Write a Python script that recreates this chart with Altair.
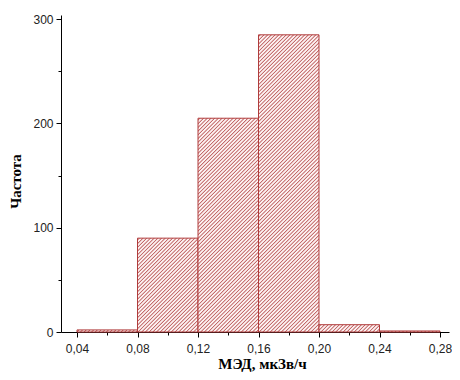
import altair as alt
import pandas as pd

# Histogram data
bin_start = [0.04, 0.08, 0.12, 0.16, 0.20, 0.24]
bin_end = [0.08, 0.12, 0.16, 0.20, 0.24, 0.28]
counts = [2, 90, 205, 285, 7, 1]

x_ticks = [0.04, 0.06, 0.08, 0.10, 0.12, 0.14, 0.16, 0.18, 0.20, 0.22, 0.24, 0.26, 0.28]
y_ticks = [0, 50, 100, 150, 200, 250, 300]

X_DOMAIN = [0.02942, 0.28595]
Y_DOMAIN = [0, 304]
W, H = 388, 317

df = pd.DataFrame({"i": range(len(counts)), "x": bin_start, "x2": bin_end, "y": counts})

LINE = "#c26a6a"
BG = "#fcf0f0"
PERIOD = 3.7  # in (px + py) units


def hatch(w, h):
    w = max(w, 0.5)
    h = max(h, 0.5)
    c = (1 / h + 1 / w) / (1 / h ** 2 + 1 / w ** 2)
    n = (w + h) / PERIOD
    stops = []
    k = 0
    while k < n:
        for frac, col in [(0.0, BG), (0.2, BG), (0.45, LINE), (0.55, LINE), (0.8, BG)]:
            off = (k + frac) / n
            if off <= 1:
                stops.append({"offset": off, "color": col})
        k += 1
    return {"gradient": "linear", "x1": 0, "y1": 0, "x2": c / h, "y2": c / w, "stops": stops}


xscale = alt.Scale(domain=X_DOMAIN, nice=False, zero=False)
yscale = alt.Scale(domain=Y_DOMAIN, nice=False)

xaxis = alt.Axis(
    values=x_ticks,
    labelExpr="round(datum.value*100) % 4 == 0 ? replace(format(datum.value, '.2f'), '.', ',') : ''",
    tickSize={"condition": {"test": "round(datum.value*100) % 4 == 0", "value": 5}, "value": 3},
    title="МЭД, мкЗв/ч",
    grid=False,
    labelPadding=6,
    titleX=201,
    titleY=36,
    titleBaseline="alphabetic",
)
yaxis = alt.Axis(
    values=y_ticks,
    labelExpr="datum.value % 100 == 0 ? datum.value : ''",
    tickSize={"condition": {"test": "datum.value % 100 == 0", "value": 5}, "value": 3},
    title="Частота",
    grid=False,
    labelPadding=3,
    titleX=-38,
    titleY=166,
)

px_per_x = W / (X_DOMAIN[1] - X_DOMAIN[0])
px_per_y = H / (Y_DOMAIN[1] - Y_DOMAIN[0])

base = alt.Chart(df).encode(
    x=alt.X("x:Q", scale=xscale, axis=xaxis),
    x2="x2:Q",
    y=alt.Y("y:Q", scale=yscale, axis=yaxis),
    y2=alt.datum(0),
)

layers = []
for i in range(len(counts)):
    w = (bin_end[i] - bin_start[i]) * px_per_x
    h = counts[i] * px_per_y
    layers.append(
        base.transform_filter(alt.datum.i == i).mark_rect(
            fill=hatch(w, h), stroke="#b03c3c", strokeWidth=1
        )
    )

chart = alt.layer(*layers).properties(
    width=W,
    height=H,
    autosize=alt.AutoSizeParams(type="none"),
    padding={"left": 53, "top": 7, "right": 3, "bottom": 40},
).configure_view(stroke=None).configure_axis(
    domainColor="#000",
    tickColor="#000",
    labelFont="Liberation Sans",
    labelFontSize=12,
    labelColor="#222",
    titleFont="Liberation Serif",
    titleFontSize=15,
    titleFontWeight="bold",
    titleColor="#000",
)

chart.save("out.html", embed_options={"renderer": "svg", "actions": False})
